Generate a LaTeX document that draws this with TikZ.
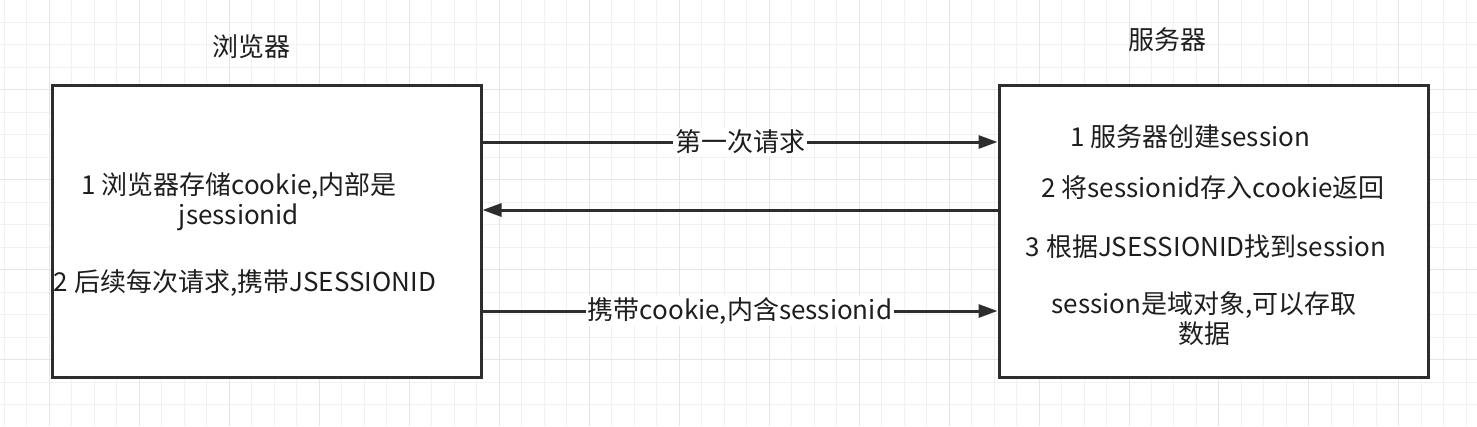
\documentclass[tikz,border=0pt]{standalone}
\usepackage{fontspec}
\setmainfont{Noto Sans CJK SC}
\usetikzlibrary{arrows.meta,positioning}
\definecolor{ink}{RGB}{45,45,45}
\definecolor{inktext}{RGB}{30,30,30}
\definecolor{gridminor}{RGB}{241,241,241}
\definecolor{gridmajor}{RGB}{229,229,229}

\begin{document}
\begin{tikzpicture}[x=1pt,y=-1pt,
  box/.style={draw=ink, line width=3pt, fill=white, minimum width=429pt, minimum height=292pt, inner sep=0pt},
  txt/.style={text=inktext, font=\fontsize{26}{30}\selectfont, align=center, inner sep=0pt},
  lbl/.style={txt, fill=white, inner sep=2pt},
  arr/.style={color=ink, line width=3pt, -{Triangle[length=19pt,width=13pt]}}]
\useasboundingbox (0,0) rectangle (1477,426);
\fill[white] (0,0) rectangle (1477,426);

% grid
\foreach \k in {0,...,65} \draw[gridminor, line width=1pt] (4.5+22.49*\k,0) -- (4.5+22.49*\k,426);
\foreach \k in {1,...,18} \draw[gridminor, line width=1pt] (0,-0.5+22.5*\k) -- (1477,-0.5+22.5*\k);
\foreach \k in {2,6,...,62} \draw[gridmajor, line width=1pt] (4.5+22.49*\k,0) -- (4.5+22.49*\k,426);
\foreach \k in {4,8,...,16} \draw[gridmajor, line width=1pt] (0,-0.5+22.5*\k) -- (1477,-0.5+22.5*\k);

\node [box] (browser) at (266.5,231) {};
\node [box] (server) at (1213.5,231) {};

\node [txt] (browser_title) at (251,47) {浏览器};
\node [txt] (server_title) at (1167,40) {服务器};

\node [txt] (b_note1) at (239,202) {1 浏览器存储cookie,内部是\\jsessionid};
\node [txt] (b_note2) at (245,283) {2 后续每次请求,携带JSESSIONID};

\node [txt] (s_note1) at (1190,137) {1 服务器创建session};
\node [txt] (s_note2) at (1213,188) {2 将sessionid存入cookie返回};
\node [txt] (s_note3) at (1206,247) {3 根据JSESSIONID找到session};
\node [txt] (s_note4) at (1204,319) {session是域对象,可以存取\\数据};

\coordinate (b_req) at ([yshift=89pt]browser.east);
\coordinate (s_req) at ([yshift=89pt]server.west);
\coordinate (b_resp) at ([yshift=21pt]browser.east);
\coordinate (s_resp) at ([yshift=21pt]server.west);
\coordinate (b_next) at ([yshift=-80pt]browser.east);
\coordinate (s_next) at ([yshift=-80pt]server.west);

\path [arr]
(b_req)  edge node [lbl] {第一次请求} (s_req)
(s_resp) edge (b_resp)
(b_next) edge node [lbl] {携带cookie,内含sessionid} (s_next);
\end{tikzpicture}
\end{document}
